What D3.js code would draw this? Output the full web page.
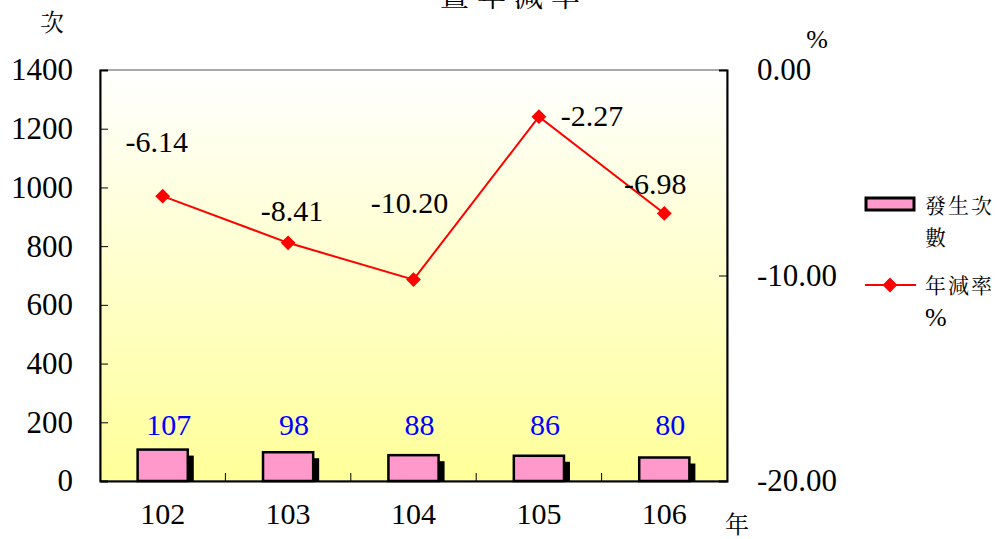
<!DOCTYPE html>
<html>
<head>
<meta charset="utf-8">
<script src="https://cdn.jsdelivr.net/npm/d3@7"></script>
</head>
<body style="margin:0; background:#fff">
<div id="chart"></div>
<script>
// Data
var years = ["102", "103", "104", "105", "106"];
var counts = [107, 98, 88, 86, 80];
var rates = [-6.14, -8.41, -10.20, -2.27, -6.98];
var leftTicks = [0, 200, 400, 600, 800, 1000, 1200, 1400];
var rightTicks = [0, -10, -20];

// label nudges for the rate labels (dx, dy in px)
var rateLabelOffset = [[-6, -54], [4, -32], [-4, -77], [53, -1], [-9, -29]];

var serif = "'Liberation Serif', 'Times New Roman', serif";
var cjkSerif = "'Noto Serif CJK TC', 'Noto Sans CJK TC', serif";

var width = 997, height = 539;
var margin = { top: 70, right: 270, bottom: 58, left: 100 };
var plotW = width - margin.left - margin.right;
var plotH = height - margin.top - margin.bottom;

var svg = d3.select("#chart")
  .append("svg")
    .attr("width", width)
    .attr("height", height);

// Background gradient of the plot area
var grad = svg.append("defs").append("linearGradient")
  .attr("id", "bg")
  .attr("x1", 0).attr("y1", 0).attr("x2", 0).attr("y2", 1);
grad.append("stop").attr("offset", "0%").attr("stop-color", "#ffffff");
grad.append("stop").attr("offset", "100%").attr("stop-color", "#ffff99");

var g = svg.append("g")
  .attr("transform", "translate(" + margin.left + "," + margin.top + ")");

var x = d3.scaleBand().domain(years).range([0, plotW]);
var yLeft = d3.scaleLinear().domain([0, 1400]).range([plotH, 0]);
var yRight = d3.scaleLinear().domain([-20, 0]).range([plotH, 0]);

g.append("rect")
  .attr("width", plotW)
  .attr("height", plotH)
  .attr("fill", "url(#bg)")
  .attr("stroke", "#555")
  .attr("stroke-width", 1);

function styleAxis(sel) {
  sel.select(".domain").attr("stroke", "#000").attr("stroke-width", 2);
  sel.selectAll("text")
    .attr("font-size", 31)
    .attr("fill", "#000");
}

// Left axis
var leftAxis = g.append("g")
  .call(d3.axisLeft(yLeft).tickValues(leftTicks).tickSize(-8).tickPadding(27)
    .tickFormat(d3.format("d")));
styleAxis(leftAxis);

// Right axis
var rightAxis = g.append("g")
  .attr("transform", "translate(" + plotW + ",0)")
  .call(d3.axisRight(yRight).tickValues(rightTicks).tickSize(-8).tickPadding(30)
    .tickFormat(function(d) { return d.toFixed(2); }));
styleAxis(rightAxis);

// Bottom axis: category labels, tick marks between categories
var bottomAxis = g.append("g")
  .attr("transform", "translate(0," + plotH + ")")
  .call(d3.axisBottom(x).tickSize(0).tickPadding(22));
styleAxis(bottomAxis);
bottomAxis.selectAll("text").attr("font-size", 30);
g.selectAll(".sep")
  .data(years.slice(1))
  .enter()
  .append("line")
  .attr("x1", function(d) { return x(d); })
  .attr("x2", function(d) { return x(d); })
  .attr("y1", plotH)
  .attr("y2", plotH - 8)
  .attr("stroke", "#000");

// Bars with drop shadow
var barW = x.bandwidth() * 0.4;
g.selectAll(".shadow")
  .data(counts)
  .enter()
  .append("rect")
  .attr("x", function(d, i) { return x(years[i]) + (x.bandwidth() - barW) / 2 + 6; })
  .attr("y", function(d) { return yLeft(d) + 6; })
  .attr("width", barW)
  .attr("height", function(d) { return plotH - yLeft(d) - 6; })
  .attr("fill", "#000");

g.selectAll(".bar")
  .data(counts)
  .enter()
  .append("rect")
  .attr("x", function(d, i) { return x(years[i]) + (x.bandwidth() - barW) / 2; })
  .attr("y", function(d) { return yLeft(d); })
  .attr("width", barW)
  .attr("height", function(d) { return plotH - yLeft(d); })
  .attr("fill", "#ff99cc")
  .attr("stroke", "#000")
  .attr("stroke-width", 2.5);

g.selectAll(".barlabel")
  .data(counts)
  .enter()
  .append("text")
  .attr("x", function(d, i) { return x(years[i]) + x.bandwidth() / 2 + 6; })
  .attr("y", plotH - 46)
  .attr("text-anchor", "middle")
  .attr("font-size", 30)
  .attr("fill", "#0000ff")
  .text(function(d) { return d; });

// Rate line
var line = d3.line()
  .x(function(d, i) { return x(years[i]) + x.bandwidth() / 2; })
  .y(function(d) { return yRight(d); });

g.append("path")
  .datum(rates)
  .attr("d", line)
  .attr("fill", "none")
  .attr("stroke", "#ff0000")
  .attr("stroke-width", 2);

var diamond = d3.symbol().type(d3.symbolSquare).size(110);
g.selectAll(".pt")
  .data(rates)
  .enter()
  .append("path")
  .attr("d", diamond)
  .attr("transform", function(d, i) {
    return "translate(" + (x(years[i]) + x.bandwidth() / 2) + "," + yRight(d) + ") rotate(45)";
  })
  .attr("fill", "#ff0000");

g.selectAll(".ratelabel")
  .data(rates)
  .enter()
  .append("text")
  .attr("x", function(d, i) { return x(years[i]) + x.bandwidth() / 2 + rateLabelOffset[i][0]; })
  .attr("y", function(d, i) { return yRight(d) + rateLabelOffset[i][1] + 10; })
  .attr("text-anchor", "middle")
  .attr("font-size", 30)
  .attr("fill", "#000")
  .text(function(d) { return d.toFixed(2); });

// Title (cut off at top, as in the source) and axis unit labels
svg.append("text").attr("class", "cjk")
  .attr("x", 514).attr("y", 7)
  .attr("text-anchor", "middle")
  .attr("font-size", 29)
  .attr("letter-spacing", 8)
  .text("暨年減率");

svg.append("text").attr("class", "cjk")
  .attr("x", 52).attr("y", 31)
  .attr("text-anchor", "middle")
  .attr("font-size", 24)
  .text("次");

svg.append("text")
  .attr("x", 817).attr("y", 48)
  .attr("text-anchor", "middle")
  .attr("font-size", 26)
  .text("%");

svg.append("text").attr("class", "cjk")
  .attr("x", 737).attr("y", 533)
  .attr("text-anchor", "middle")
  .attr("font-size", 24)
  .text("年");

// Legend
var legend = svg.append("g");
legend.append("rect")
  .attr("x", 866).attr("y", 198)
  .attr("width", 48).attr("height", 12)
  .attr("fill", "#ff99cc")
  .attr("stroke", "#000")
  .attr("stroke-width", 3);
legend.append("text").attr("class", "cjk")
  .attr("x", 925).attr("y", 213)
  .attr("font-size", 21).attr("letter-spacing", 2)
  .text("發生次");
legend.append("text").attr("class", "cjk")
  .attr("x", 925).attr("y", 245)
  .attr("font-size", 21)
  .text("數");

legend.append("line")
  .attr("x1", 865).attr("x2", 916)
  .attr("y1", 285).attr("y2", 285)
  .attr("stroke", "#ff0000")
  .attr("stroke-width", 2);
legend.append("path")
  .attr("d", diamond)
  .attr("transform", "translate(890,285) rotate(45)")
  .attr("fill", "#ff0000");
legend.append("text").attr("class", "cjk")
  .attr("x", 925).attr("y", 293)
  .attr("font-size", 21).attr("letter-spacing", 2)
  .text("年減率");
legend.append("text")
  .attr("x", 925).attr("y", 326)
  .attr("font-size", 26)
  .text("%");

// Fonts set inline on every text
svg.selectAll("text").each(function() {
  var t = d3.select(this);
  t.style("font-family", t.classed("cjk") ? cjkSerif : serif);
});
</script>
</body>
</html>
